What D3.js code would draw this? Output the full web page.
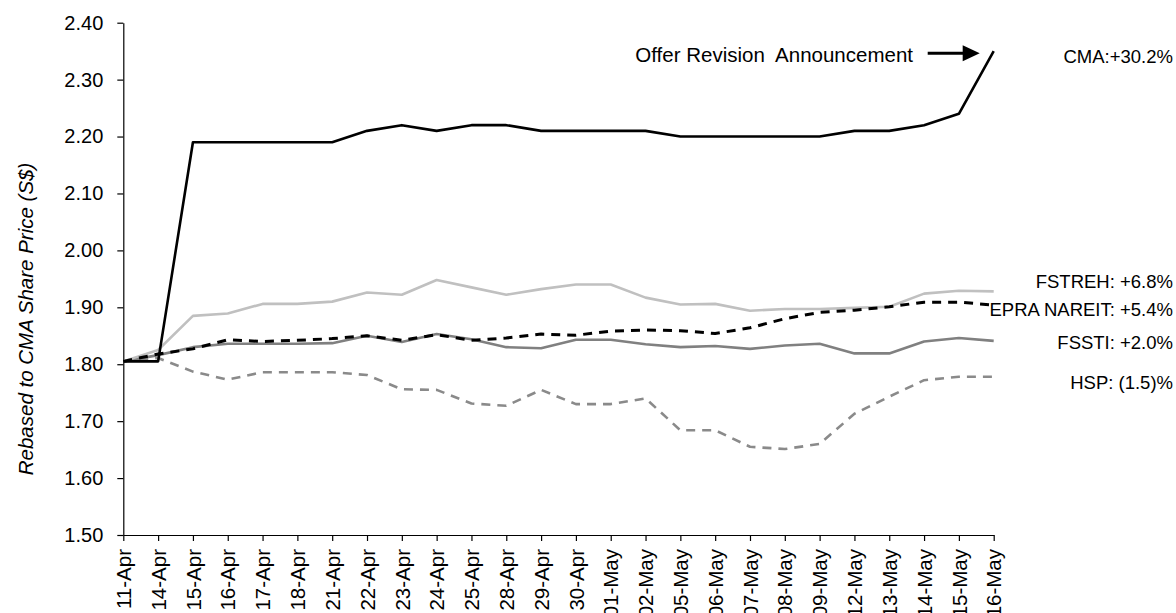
<!DOCTYPE html>
<html>
<head>
<meta charset="utf-8">
<script src="https://cdn.jsdelivr.net/npm/d3@7"></script>
<style>
  html, body { margin: 0; padding: 0; background: #fff; }
  svg { display: block; font-family: "Liberation Sans", Arial, sans-serif; }
</style>
</head>
<body>
<svg id="chart" width="1176" height="613"></svg>
<script>
// ---- data ----
const dates = ["11-Apr","14-Apr","15-Apr","16-Apr","17-Apr","18-Apr","21-Apr","22-Apr","23-Apr","24-Apr","25-Apr","28-Apr","29-Apr","30-Apr","01-May","02-May","05-May","06-May","07-May","08-May","09-May","12-May","13-May","14-May","15-May","16-May"];
const cma    = [1.805,1.805,2.19,2.19,2.19,2.19,2.19,2.21,2.22,2.21,2.22,2.22,2.21,2.21,2.21,2.21,2.20,2.20,2.20,2.20,2.20,2.21,2.21,2.22,2.24,2.35];
const fstreh = [1.805,1.825,1.885,1.889,1.906,1.906,1.910,1.926,1.922,1.948,1.935,1.922,1.932,1.940,1.940,1.917,1.905,1.906,1.894,1.897,1.897,1.899,1.901,1.924,1.929,1.928];
const epra   = [1.805,1.818,1.827,1.843,1.840,1.842,1.845,1.850,1.842,1.852,1.842,1.846,1.853,1.851,1.858,1.860,1.859,1.854,1.864,1.880,1.891,1.895,1.901,1.909,1.909,1.904];
const fssti  = [1.805,1.816,1.830,1.836,1.836,1.836,1.837,1.850,1.839,1.853,1.844,1.830,1.828,1.843,1.843,1.835,1.830,1.832,1.827,1.833,1.836,1.819,1.819,1.840,1.846,1.841];
const hsp    = [1.805,1.811,1.787,1.773,1.786,1.786,1.786,1.781,1.756,1.755,1.731,1.727,1.755,1.730,1.730,1.740,1.684,1.684,1.655,1.651,1.660,1.713,1.743,1.772,1.778,1.778];
const yTicks = [1.50,1.60,1.70,1.80,1.90,2.00,2.10,2.20,2.30,2.40];
const seriesNames = ["CMA","FSTREH","EPRA NAREIT","FSSTI","HSP"];
const seriesLabels = ["CMA:+30.2%","FSTREH: +6.8%","EPRA NAREIT: +5.4%","FSSTI: +2.0%","HSP: (1.5)%"];
const yTitle = "Rebased to CMA Share Price (S$)";
const annotation = "Offer Revision  Announcement";

// ---- layout ----
const svg = d3.select("#chart");
const x = d3.scalePoint().domain(dates).range([123.3, 993.7]);
const y = d3.scaleLinear().domain([1.5, 2.4]).range([535, 22.7]);

const styles = {
  "CMA":         { color: "#000000", width: 2.6, dash: null,  labelY: 57 },
  "FSTREH":      { color: "#c0c0c0", width: 2.6, dash: null,  labelY: 282 },
  "EPRA NAREIT": { color: "#000000", width: 3,   dash: "9,7", labelY: 310 },
  "FSSTI":       { color: "#808080", width: 2.6, dash: null,  labelY: 342.5 },
  "HSP":         { color: "#8a8a8a", width: 2.6, dash: "9,7", labelY: 383 }
};
const values = { "CMA": cma, "FSTREH": fstreh, "EPRA NAREIT": epra, "FSSTI": fssti, "HSP": hsp };

// ---- axes ----
const yAxis = svg.append("g")
  .attr("transform", `translate(${x(dates[0])},0)`)
  .call(d3.axisLeft(y).tickValues(yTicks).tickFormat(d3.format(".2f")).tickSize(6).tickSizeOuter(0).tickPadding(14));
yAxis.selectAll("text").style("font-size", "20px").attr("fill", "#000");
yAxis.selectAll("line, path").attr("stroke", "#000").attr("stroke-width", 1.2);

const xAxis = svg.append("g")
  .attr("transform", `translate(0,${y(1.5)})`)
  .call(d3.axisBottom(x).tickSize(6).tickSizeOuter(0));
xAxis.selectAll("line, path").attr("stroke", "#000").attr("stroke-width", 1.2);
xAxis.selectAll("text")
  .style("font-size", "20.5px")
  .attr("fill", "#000")
  .attr("transform", "rotate(-90)")
  .attr("x", -14)
  .attr("y", 0)
  .attr("dy", "0.35em")
  .style("text-anchor", "end");

// ---- y title ----
svg.append("text")
  .attr("transform", `translate(33,319) rotate(-90)`)
  .attr("text-anchor", "middle")
  .style("font-size", "20.5px")
  .style("font-style", "italic")
  .attr("fill", "#000")
  .text(yTitle);

// ---- lines (draw order: back to front) ----
const drawOrder = ["HSP","FSSTI","FSTREH","EPRA NAREIT","CMA"];
const line = d3.line().x((d, i) => x(dates[i])).y(d => y(d));
drawOrder.forEach(name => {
  const s = styles[name];
  svg.append("path")
    .datum(values[name])
    .attr("d", line)
    .attr("fill", "none")
    .attr("stroke", s.color)
    .attr("stroke-width", s.width)
    .attr("stroke-linejoin", "round")
    .attr("stroke-dasharray", s.dash);
});

// ---- end labels ----
seriesNames.forEach((name, i) => {
  svg.append("text")
    .attr("x", 1173)
    .attr("y", styles[name].labelY)
    .attr("dy", "0.35em")
    .attr("text-anchor", "end")
    .style("font-size", "18.5px")
    .attr("fill", "#000")
    .text(seriesLabels[i]);
});

// ---- annotation ----
const last = dates[dates.length - 1];
const tipX = x(last) - 14, tipY = y(cma[cma.length - 1]) + 2;
svg.append("text")
  .attr("x", 913)
  .attr("y", 55)
  .attr("dy", "0.35em")
  .attr("text-anchor", "end")
  .style("font-size", "20.5px")
  .style("white-space", "pre")
  .attr("fill", "#000")
  .text(annotation);
svg.append("line")
  .attr("x1", tipX - 52).attr("y1", tipY)
  .attr("x2", tipX - 14).attr("y2", tipY)
  .attr("stroke", "#000").attr("stroke-width", 3);
svg.append("path")
  .attr("d", `M${tipX},${tipY} L${tipX - 17},${tipY - 8} L${tipX - 17},${tipY + 8} Z`)
  .attr("fill", "#000");
</script>
</body>
</html>
